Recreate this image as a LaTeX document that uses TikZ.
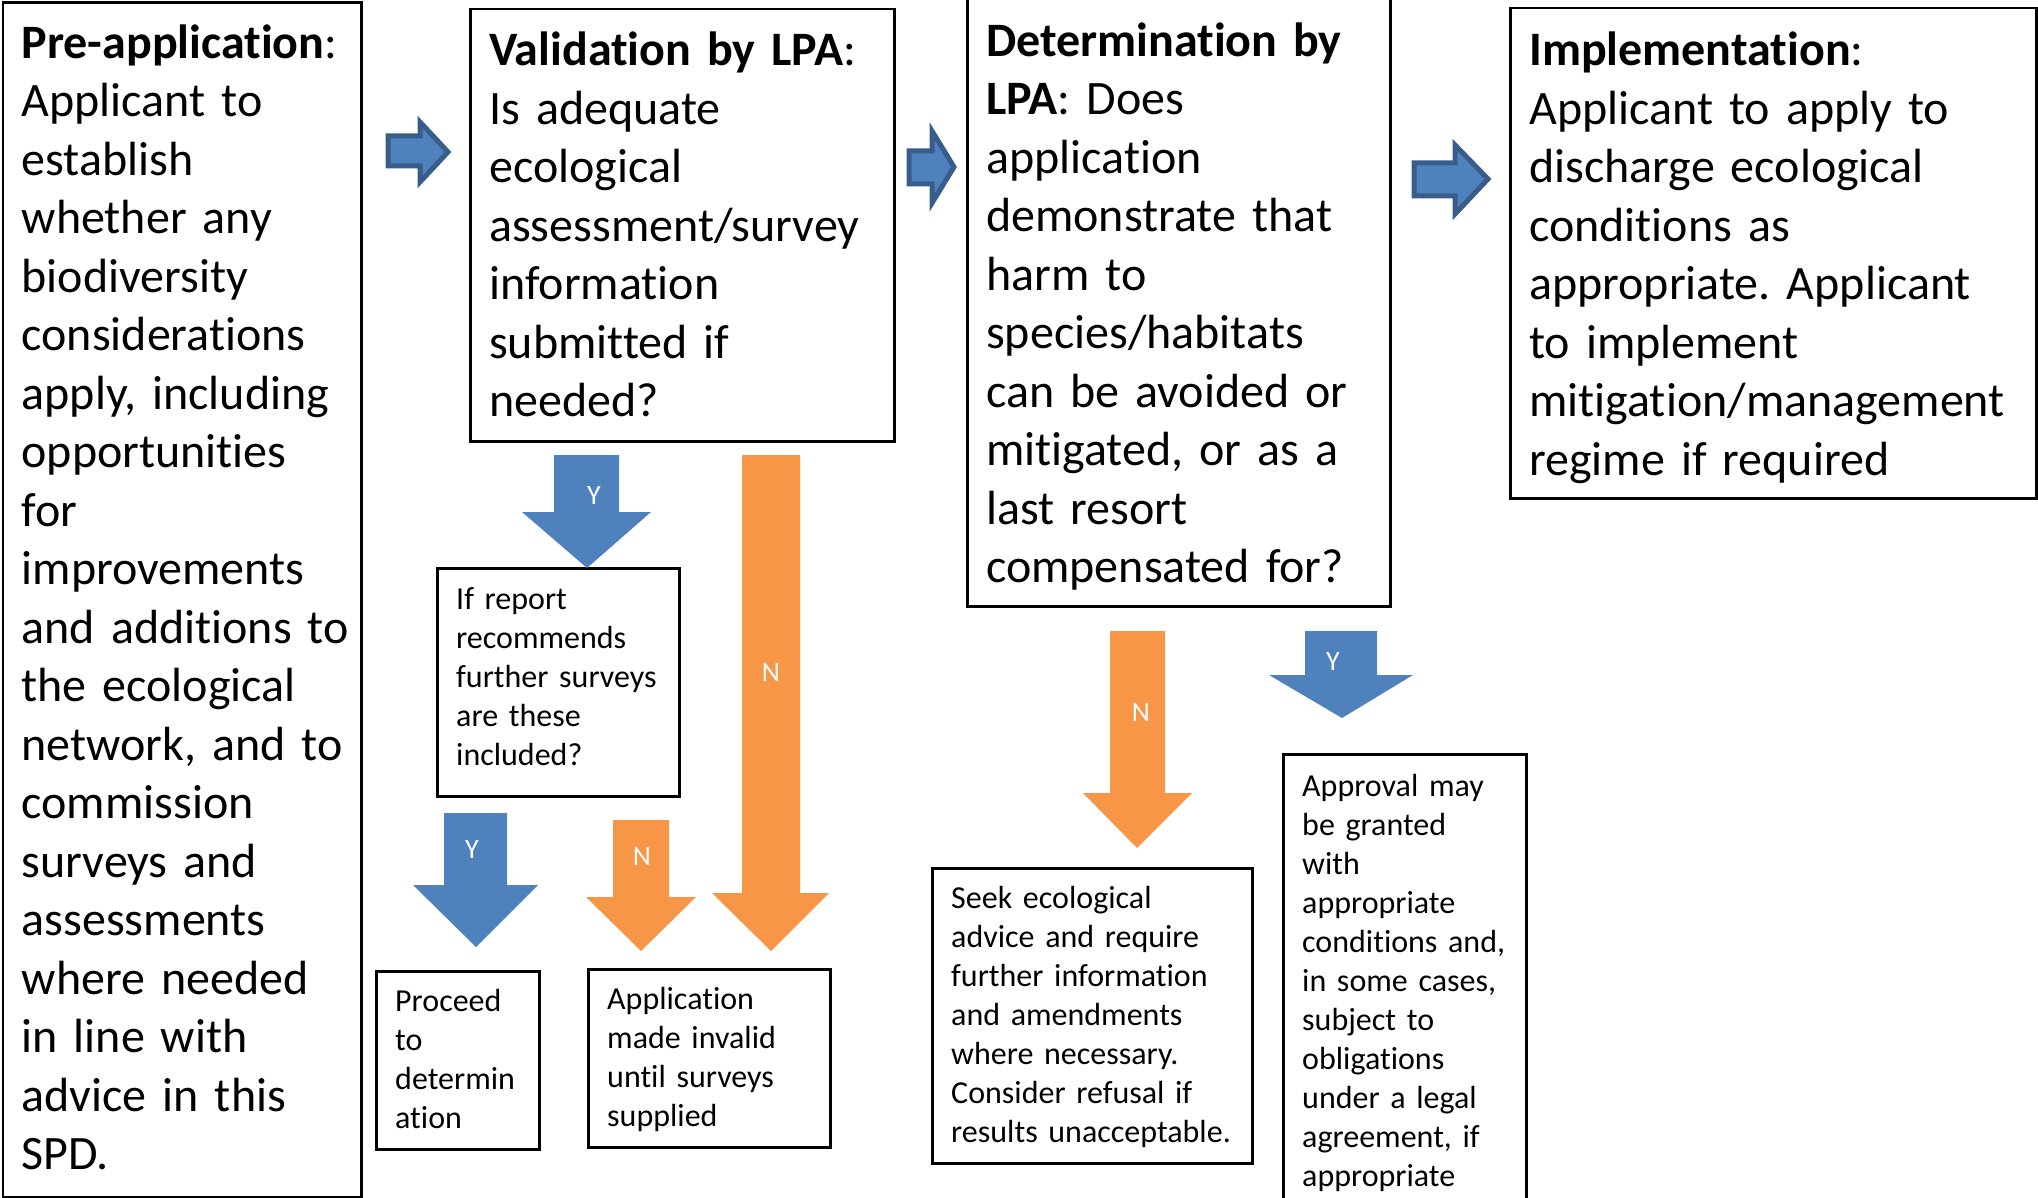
\documentclass[tikz,border=0pt]{standalone}
\usepackage{fontspec}
\setmainfont{Carlito}[Ligatures=NoCommon]
\frenchspacing
\definecolor{stepblue}{RGB}{79,129,189}
\definecolor{stepblueline}{RGB}{56,93,138}
\definecolor{steporange}{RGB}{247,150,70}
\newcommand{\bigtext}{\fontsize{48}{58.5}\selectfont}
\newcommand{\smalltext}{\fontsize{32}{39}\selectfont}

\begin{document}
\begin{tikzpicture}[x=1pt,y=-1pt,
  box/.style={draw,line width=2.5pt,anchor=north west,inner sep=0pt},
  txt/.style={anchor=base west,align=left,inner sep=0pt,text width=600pt},
  yn/.style={text=white,font=\fontsize{28}{30}\selectfont,inner sep=0pt},
  rightarrow/.style={fill=stepblue,draw=stepblueline,line width=5pt,line join=miter}]
\useasboundingbox (0,0) rectangle (2038,1198);
\clip (0,0) rectangle (2038,1198);

\node[box,minimum width=358.5pt,minimum height=1194pt] (preapp) at (1.5,1.5) {};
\node[txt,font=\bigtext] (preapptext) at ([shift={(20,57)}]preapp.north west)
  {\textbf{Pre-application}:\\Applicant to\\establish\\whether any\\biodiversity\\considerations\\apply, including\\opportunities\\for\\improvements\\and additions to\\the ecological\\network, and to\\commission\\surveys and\\assessments\\where needed\\in line with\\advice in this\\SPD.};
\node[box,minimum width=424pt,minimum height=432pt] (valid) at (469,8) {};
\node[txt,font=\bigtext] (validtext) at ([shift={(20,58)}]valid.north west)
  {\textbf{Validation by LPA}:\\Is adequate\\ecological\\assessment/survey\\information\\submitted if\\needed?};
\node[box,minimum width=423pt,minimum height=608pt] (determ) at (966,-3) {};
\node[txt,font=\bigtext] (determtext) at ([shift={(20,59.5)}]determ.north west)
  {\textbf{Determination by}\\\textbf{LPA}: Does\\application\\demonstrate that\\harm to\\species/habitats\\can be avoided or\\mitigated, or as a\\last resort\\compensated for?};
\node[box,minimum width=526pt,minimum height=490pt] (implem) at (1509,7) {};
\node[txt,font=\bigtext] (implemtext) at ([shift={(20,59)}]implem.north west)
  {\textbf{Implementation}:\\Applicant to apply to\\discharge ecological\\conditions as\\appropriate. Applicant\\to implement\\mitigation/management\\regime if required};

\node[box,minimum width=242pt,minimum height=228pt] (report) at (436,567) {};
\node[txt,font=\smalltext] (reporttext) at ([shift={(20,42)}]report.north west)
  {If report\\recommends\\further surveys\\are these\\included?};
\node[box,minimum width=163pt,minimum height=178pt] (proceed) at (375,970) {};
\node[txt,font=\smalltext] (proceedtext) at ([shift={(20,41)}]proceed.north west)
  {Proceed\\to\\determin\\ation};
\node[box,minimum width=242pt,minimum height=178pt] (invalid) at (587,968) {};
\node[txt,font=\smalltext] (invalidtext) at ([shift={(20,41)}]invalid.north west)
  {Application\\made invalid\\until surveys\\supplied};
\node[box,minimum width=320pt,minimum height=295pt] (advice) at (931,867) {};
\node[txt,font=\smalltext] (advicetext) at ([shift={(20,41.5)}]advice.north west)
  {Seek ecological\\advice and require\\further information\\and amendments\\where necessary.\\Consider refusal if\\results unacceptable.};
\node[box,minimum width=243pt,minimum height=455pt] (approval) at (1282,753) {};
\node[txt,font=\smalltext] (approvaltext) at ([shift={(20,43)}]approval.north west)
  {Approval may\\be granted\\with\\appropriate\\conditions and,\\in some cases,\\subject to\\obligations\\under a legal\\agreement, if\\appropriate};

\draw[rightarrow] (388,136) -- (420,136) -- (420,122) -- (448,152) -- (420,182) -- (420,166) -- (388,166) -- cycle;
\draw[rightarrow] (909,151) -- (932,151) -- (932,131) -- (954,167) -- (932,203) -- (932,184) -- (909,184) -- cycle;
\draw[rightarrow] (1414,163) -- (1455,163) -- (1455,145) -- (1488,179) -- (1455,214) -- (1455,196) -- (1414,196) -- cycle;

\fill[stepblue] (554,455) -- (619,455) -- (619,512) -- (651,512) -- (587,568) -- (522,512) -- (554,512) -- cycle;
\node[yn] (validyes) at (594,496) {Y};
\fill[steporange] (742,455) -- (800,455) -- (800,893) -- (829,893) -- (771,951) -- (712,893) -- (742,893) -- cycle;
\node[yn] (validno) at (771,673) {N};
\fill[stepblue] (444,813) -- (507,813) -- (507,885) -- (538,885) -- (476,947) -- (413,885) -- (444,885) -- cycle;
\node[yn] (reportyes) at (472,850) {Y};
\fill[steporange] (613,820) -- (669,820) -- (669,897) -- (696,897) -- (641,951) -- (586,897) -- (613,897) -- cycle;
\node[yn] (reportno) at (642,857) {N};
\fill[steporange] (1110,631) -- (1165,631) -- (1165,793) -- (1192,793) -- (1137,848) -- (1083,793) -- (1110,793) -- cycle;
\node[yn] (determno) at (1141,713) {N};
\fill[stepblue] (1305,631) -- (1377,631) -- (1377,675) -- (1413,675) -- (1342,718) -- (1269,675) -- (1305,675) -- cycle;
\node[yn] (determyes) at (1333,662) {Y};
\end{tikzpicture}
\end{document}
